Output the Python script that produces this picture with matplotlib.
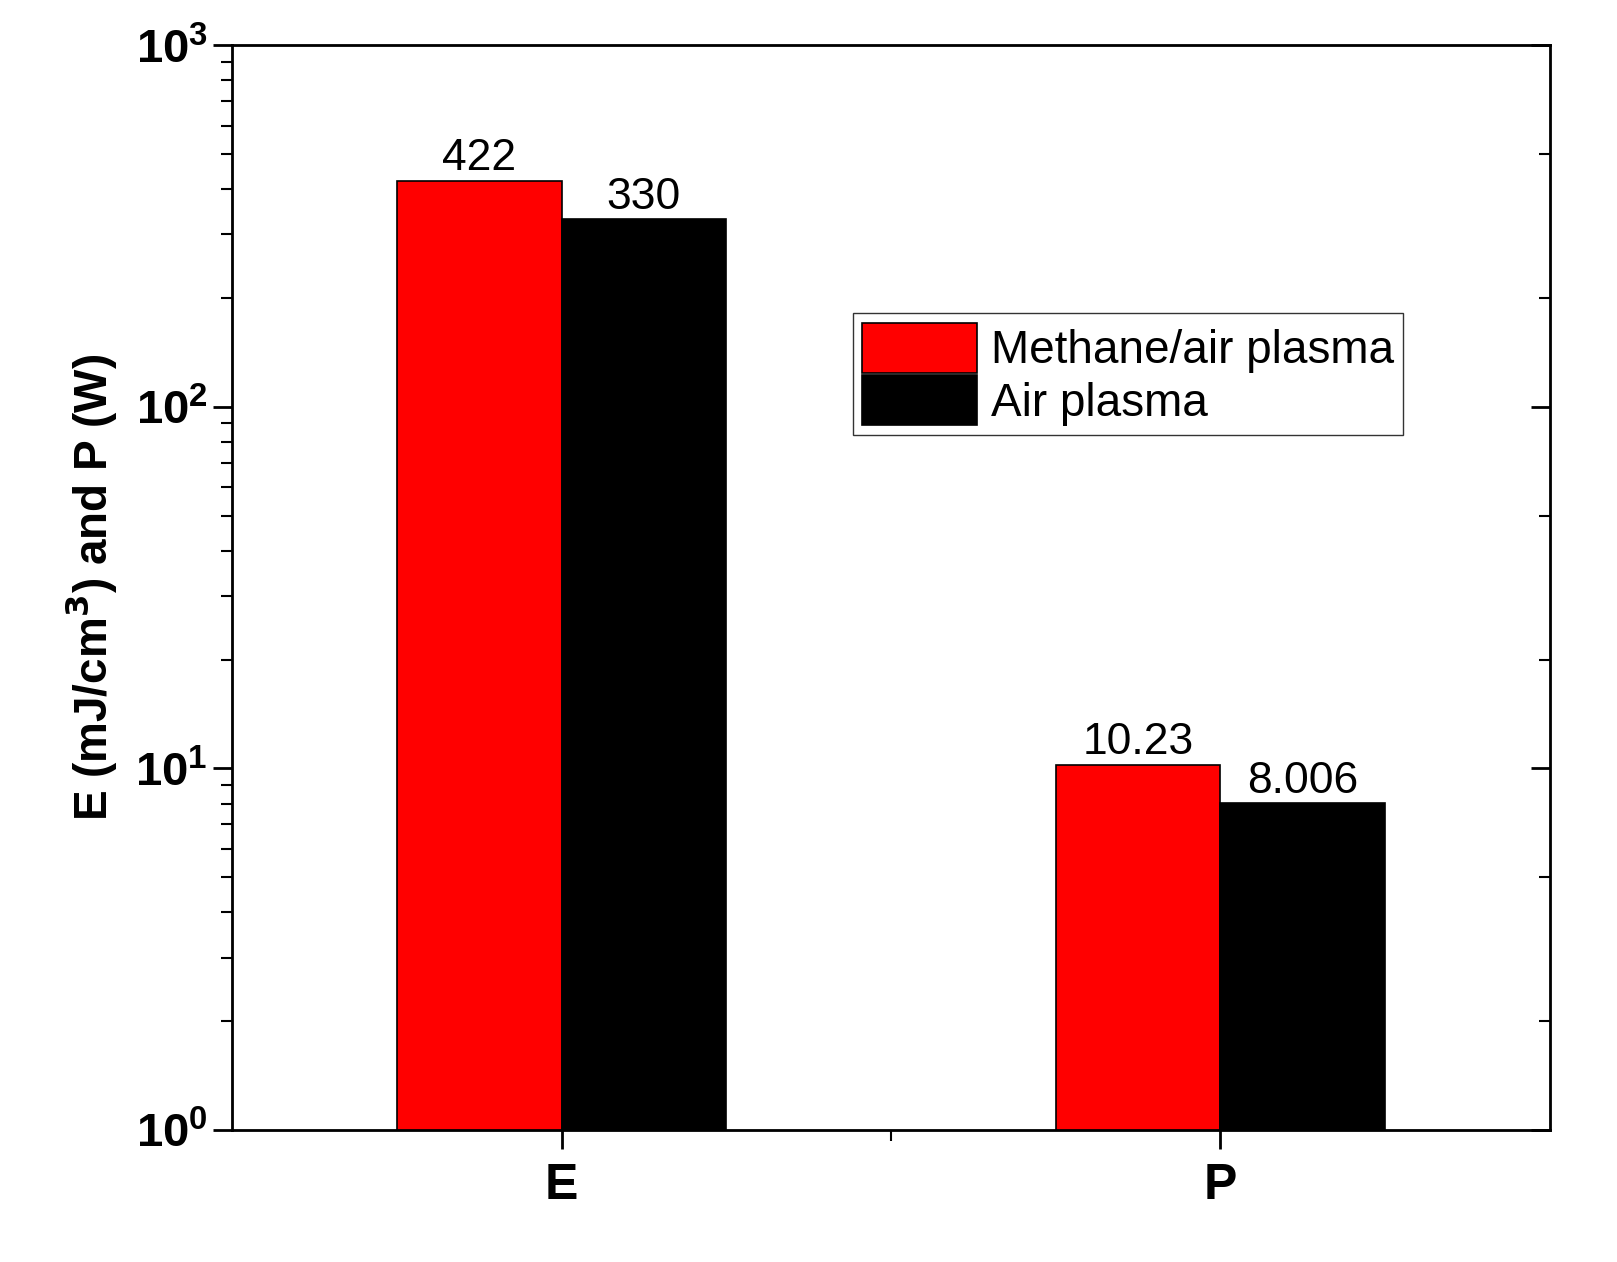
import numpy as np
import matplotlib
matplotlib.use('Agg')
import matplotlib.pyplot as plt
from matplotlib.ticker import LogLocator, NullFormatter, FixedLocator

plt.rcParams['font.family'] = ['Liberation Sans', 'DejaVu Sans']

categories = ['E', 'P']
methane = [422, 10.23]
air = [330, 8.006]
methane_labels = ['422', '10.23']
air_labels = ['330', '8.006']

fig = plt.figure(figsize=(16.17, 12.62), dpi=100)
ax = fig.add_axes([0.1435, 0.1046, 0.815, 0.8594])

x = np.arange(1, len(categories) + 1)
w = 0.25
b1 = ax.bar(x - w / 2, methane, w, color='#ff0000', edgecolor='black', linewidth=1.2, label='Methane/air plasma')
b2 = ax.bar(x + w / 2, air, w, color='black', edgecolor='black', linewidth=1.2, label='Air plasma')

for bar, t in zip(b1, methane_labels):
    ax.text(bar.get_x() + bar.get_width() / 2, bar.get_height() * 1.01, t,
            ha='center', va='bottom', fontsize=32)
for bar, t in zip(b2, air_labels):
    ax.text(bar.get_x() + bar.get_width() / 2, bar.get_height() * 1.01, t,
            ha='center', va='bottom', fontsize=32)

ax.set_yscale('log')
ax.set_ylim(1, 1000)
ax.set_xlim(0.5, 2.5)
ax.set_xticks(x)
ax.set_xticklabels(categories, fontsize=36, fontweight='bold')
ax.xaxis.set_minor_locator(FixedLocator([1.5]))
ax.yaxis.set_minor_locator(LogLocator(base=10, subs=np.arange(2, 10)))
ax.yaxis.set_minor_formatter(NullFormatter())
ax.tick_params(axis='y', which='major', direction='out', length=14, width=2, labelsize=34)
ax.tick_params(axis='y', which='minor', direction='out', length=8, width=1.5)
ax.tick_params(axis='x', which='major', direction='out', length=14, width=2, pad=10)
ax.tick_params(axis='x', which='minor', direction='out', length=8, width=1.5)
for lab in ax.get_yticklabels():
    lab.set_fontweight('bold')
for s in ax.spines.values():
    s.set_linewidth(2)

# right-side ticks (inward, Origin style)
ax2 = ax.twinx()
ax2.set_yscale('log')
ax2.set_ylim(1, 1000)
ax2.yaxis.set_major_locator(LogLocator(base=10))
ax2.yaxis.set_minor_locator(LogLocator(base=10, subs=[2, 5]))
ax2.yaxis.set_major_formatter(NullFormatter())
ax2.yaxis.set_minor_formatter(NullFormatter())
ax2.tick_params(axis='y', which='major', direction='in', length=14, width=2)
ax2.tick_params(axis='y', which='minor', direction='in', length=8, width=1.5)

ax.set_ylabel('E (mJ/cm$^\\mathbf{3}$) and P (W)', fontsize=33, fontweight='bold', labelpad=12)

leg = ax.legend(loc='upper left', bbox_to_anchor=(0.454, 0.774), fontsize=33,
                frameon=True, fancybox=False, edgecolor='black', handlelength=2.5,
                handleheight=1.3, borderpad=0.2, labelspacing=0.05, handletextpad=0.3)
leg.get_frame().set_linewidth(1)

fig.savefig('out.png', dpi=100)
